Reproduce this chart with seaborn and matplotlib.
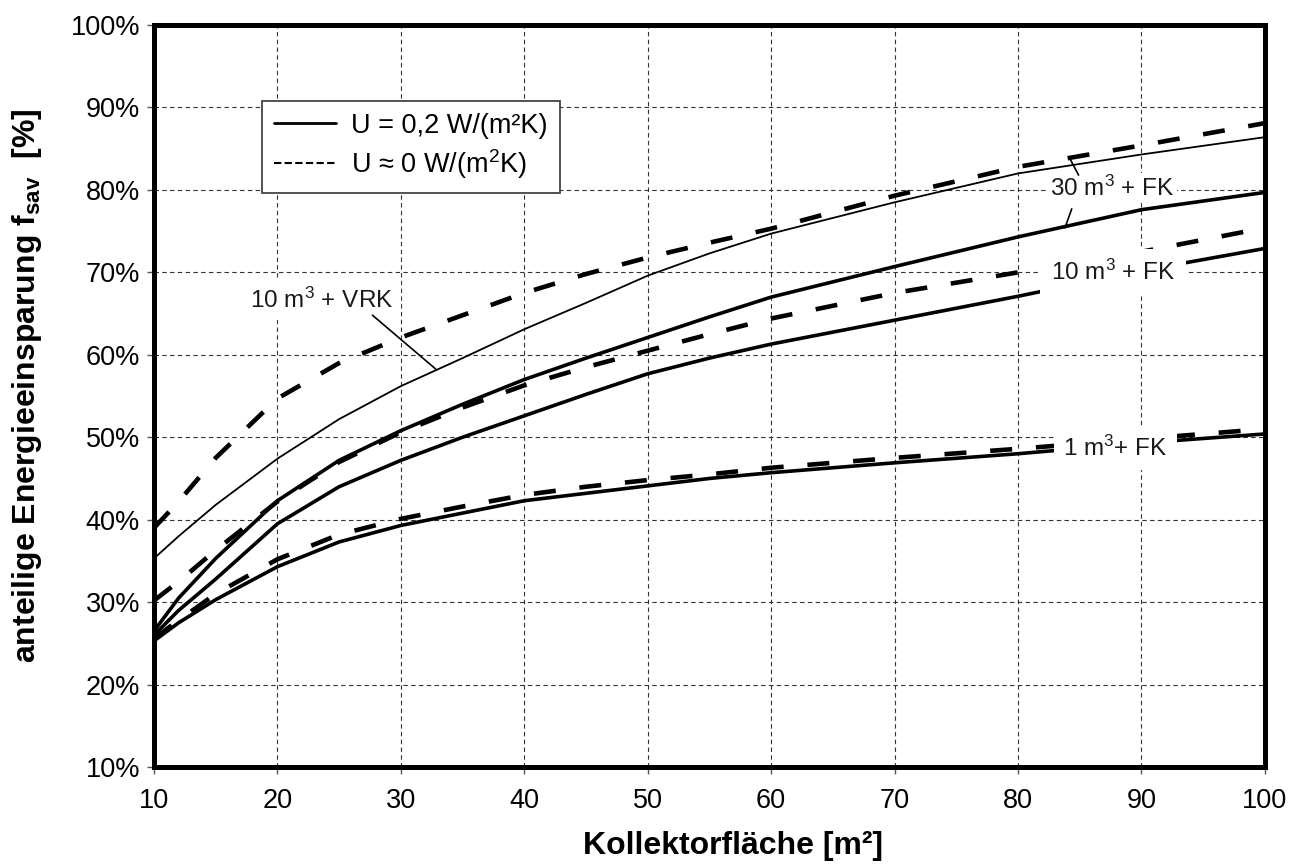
import numpy as np
import pandas as pd
import matplotlib
matplotlib.use('Agg')
import matplotlib.pyplot as plt
import seaborn as sns
from matplotlib import font_manager
from matplotlib.lines import Line2D

# Kollektorfläche [m²]
area = [10, 12, 15, 20, 25, 30, 35, 40, 45, 50, 55, 60, 70, 80, 90, 100]

# anteilige Energieeinsparung [%]
vrk10_u02 = [35.3, 38.0, 41.8, 47.4, 52.2, 56.2, 59.6, 63.1, 66.3, 69.6, 72.3, 74.7, 78.5, 82.0, 84.3, 86.4]
vrk10_u0 = [39.0, 42.2, 47.5, 54.7, 59.0, 62.1, 64.8, 67.5, 69.8, 71.8, 73.6, 75.3, 79.3, 82.8, 85.4, 88.1]
fk30_u02 = [26.5, 30.5, 35.3, 42.3, 47.2, 50.8, 54.0, 57.0, 59.6, 62.1, 64.6, 67.0, 70.7, 74.3, 77.6, 79.7]
fk10_u0 = [30.2, 32.5, 36.3, 42.2, 47.0, 50.6, 53.6, 56.3, 58.5, 60.5, 62.5, 64.4, 67.5, 70.0, 72.5, 75.4]
fk10_u02 = [26.0, 29.0, 32.8, 39.5, 44.0, 47.2, 50.0, 52.6, 55.2, 57.7, 59.6, 61.3, 64.2, 67.1, 70.2, 72.9]
fk1_u0 = [25.6, 27.8, 31.0, 35.2, 38.2, 40.1, 41.6, 43.0, 44.0, 44.8, 45.5, 46.3, 47.5, 48.6, 49.8, 51.0]
fk1_u02 = [25.3, 27.5, 30.3, 34.3, 37.3, 39.3, 40.8, 42.3, 43.2, 44.1, 45.0, 45.7, 46.9, 48.0, 49.3, 50.4]

y_ticks = [10, 20, 30, 40, 50, 60, 70, 80, 90, 100]
x_ticks = [10, 20, 30, 40, 50, 60, 70, 80, 90, 100]

sns.set_style('white')
plt.rcParams['font.family'] = ['Liberation Sans', 'DejaVu Sans']
plt.rcParams['text.color'] = 'black'
plt.rcParams['axes.labelcolor'] = 'black'
plt.rcParams['xtick.color'] = 'black'
plt.rcParams['ytick.color'] = 'black'
plt.rcParams['mathtext.fontset'] = 'custom'
plt.rcParams['mathtext.rm'] = 'Liberation Sans'
plt.rcParams['mathtext.it'] = 'Liberation Sans:italic'
plt.rcParams['mathtext.bf'] = 'Liberation Sans:bold'

# schmale Schrift für die y-Achse, falls vorhanden
installed = {f.name for f in font_manager.fontManager.ttflist}
if 'Liberation Sans Narrow' in installed:
    ylab_family, ylab_size = 'Liberation Sans Narrow', 28
else:
    ylab_family, ylab_size = 'Liberation Sans', 23

fig, ax = plt.subplots(figsize=(13.05, 8.66), dpi=100)
fig.subplots_adjust(left=0.118, right=0.9693, bottom=0.1143, top=0.9711)

thick = dict(color='black', linewidth=2.6, linestyle='-')
thin = dict(color='black', linewidth=1.3, linestyle='-')
dash = dict(color='black', linewidth=3.3, linestyle=(0, (4.8, 5.2)))

series = [
    (vrk10_u02, thin),
    (fk30_u02, thick),
    (fk10_u02, thick),
    (fk1_u02, thick),
    (vrk10_u0, dash),
    (fk10_u0, dash),
    (fk1_u0, dash),
]
for vals, kw in series:
    sns.lineplot(x=area, y=vals, ax=ax, estimator=None, sort=False, **kw)

ax.set_xlim(10, 100)
ax.set_ylim(10, 100)
ax.set_xticks(x_ticks)
ax.set_yticks(y_ticks)
ax.set_yticklabels([f'{v}%' for v in y_ticks])
ax.tick_params(axis='both', labelsize=19.5, labelcolor='black', direction='out',
               length=5, width=1, color='#555555', left=True, bottom=True)
ax.tick_params(axis='y', pad=5)
ax.tick_params(axis='x', pad=10)

ax.set_axisbelow(True)
ax.grid(True, linestyle=(0, (4, 3)), linewidth=0.8, color='#333333')
for s in ax.spines.values():
    s.set_visible(True)
    s.set_linewidth(3.6)
    s.set_color('black')

ax.set_xlabel('Kollektorfläche [m²]', fontsize=23, fontweight='bold', color='black')
ax.xaxis.set_label_coords(0.5216, -0.086)
ax.set_ylabel(r'anteilige Energieeinsparung f$_{\mathregular{sav}}$  [%]',
              fontsize=ylab_size, fontweight='bold', family=ylab_family, color='black')
ax.yaxis.set_label_coords(-0.099, 0.514)

# Legende
handles = [
    Line2D([], [], color='black', linewidth=2.0, linestyle='-'),
    Line2D([], [], color='black', linewidth=1.5, linestyle=(0, (3.5, 1.6))),
]
labels = ['U = 0,2 W/(m²K)', r'U ≈ 0 W/(m$^{\mathregular{2}}$K)']
leg = ax.legend(handles, labels, loc='upper left', bbox_to_anchor=(0.097, 0.898),
                borderaxespad=0, fontsize=19.5, frameon=True, fancybox=False,
                handlelength=2.3, handletextpad=0.55, borderpad=0.45,
                labelspacing=0.3)
leg.get_frame().set_edgecolor('#444444')
leg.get_frame().set_linewidth(1.3)
leg.get_frame().set_alpha(1)
for t in leg.get_texts():
    t.set_color('black')

# Beschriftungen der Kurven
box = dict(boxstyle='square,pad=0.3', facecolor='white', edgecolor='none')
ax.text(23.6, 66.6, r'10 m$^{\mathregular{3}}$ + VRK', fontsize=17.5, color='#1a1a1a',
        ha='center', va='center', bbox=box, zorder=5)
ax.text(87.6, 80.2, r'30 m$^{\mathregular{3}}$ + FK', fontsize=17.5, color='#1a1a1a',
        ha='center', va='center', bbox=dict(box, boxstyle='square,pad=0.1'), zorder=5)
ax.text(87.7, 70.0, r'10 m$^{\mathregular{3}}$ + FK', fontsize=17.5, color='#1a1a1a',
        ha='center', va='center', bbox=dict(box, boxstyle='square,pad=0.45'), zorder=5)
ax.text(87.9, 48.7, r'1 m$^{\mathregular{3}}$+ FK', fontsize=17.5, color='#1a1a1a',
        ha='center', va='center', bbox=dict(box, boxstyle='square,pad=0.4'), zorder=5)

leader = dict(arrowstyle='-', color='black', lw=1.2, shrinkA=0, shrinkB=0)
ax.annotate('', xy=(32.8, 58.3), xytext=(27.7, 64.8), arrowprops=leader, zorder=6)
ax.annotate('', xy=(84.2, 83.8), xytext=(84.9, 81.8), arrowprops=leader, zorder=6)
ax.annotate('', xy=(83.8, 75.4), xytext=(84.35, 77.7), arrowprops=leader, zorder=6)

fig.savefig('out.png', dpi=100)
